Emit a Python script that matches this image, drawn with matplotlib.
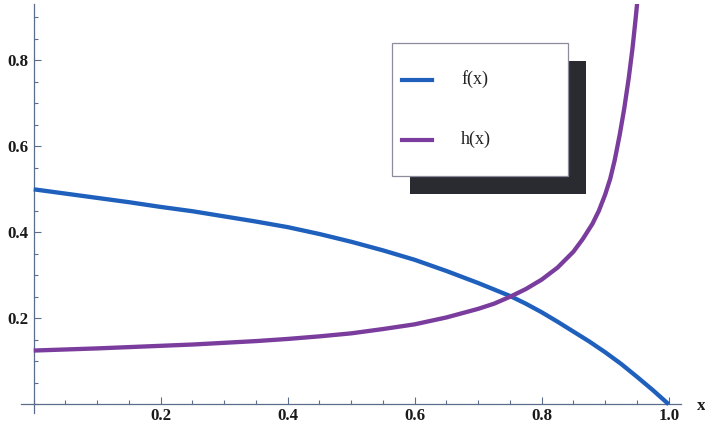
import numpy as np
import matplotlib
matplotlib.use("Agg")
import matplotlib.pyplot as plt
from matplotlib.ticker import MultipleLocator
from matplotlib.patches import Rectangle
from matplotlib.lines import Line2D

# values
x_f = [0.0, 0.05, 0.1, 0.15, 0.2, 0.25, 0.3, 0.35, 0.4, 0.45, 0.5,
       0.55, 0.6, 0.65, 0.7, 0.75, 0.775, 0.8, 0.825, 0.85, 0.875,
       0.9, 0.925, 0.95, 0.975, 1.0]
f_vals = [0.500, 0.490, 0.480, 0.470, 0.459, 0.449, 0.437, 0.425, 0.412, 0.396, 0.378,
          0.358, 0.336, 0.310, 0.282, 0.252, 0.234, 0.214, 0.192, 0.169, 0.146,
          0.121, 0.094, 0.064, 0.033, 0.0]

x_h = [0.0, 0.05, 0.1, 0.15, 0.2, 0.25, 0.3, 0.35, 0.4, 0.45, 0.5, 0.55, 0.6,
       0.65, 0.7, 0.725, 0.75, 0.775, 0.8, 0.825, 0.85, 0.865, 0.88, 0.89, 0.9,
       0.908, 0.915, 0.923, 0.93, 0.937, 0.943, 0.948, 0.952, 0.956]
h_vals = [0.125, 0.1275, 0.130, 0.133, 0.136, 0.139, 0.143, 0.147, 0.152, 0.158, 0.165, 0.175, 0.186,
          0.202, 0.222, 0.234, 0.250, 0.268, 0.290, 0.318, 0.355, 0.385, 0.420, 0.450, 0.488,
          0.525, 0.568, 0.628, 0.688, 0.758, 0.828, 0.898, 0.958, 1.02]

x_ticks = [0.2, 0.4, 0.6, 0.8, 1.0]
x_labels = ["0.2", "0.4", "0.6", "0.8", "1.0"]
y_ticks = [0.2, 0.4, 0.6, 0.8]
y_labels = ["0.2", "0.4", "0.6", "0.8"]
names = ["f(x)", "h(x)"]

blue = "#1f60bd"
purple = "#7a3d9e"
axcol = "#5a6e8c"

fig = plt.figure(figsize=(7.05, 4.3), dpi=100)
ax = fig.add_axes([21 / 705, (430 - 412.9) / 430, 660.4 / 705, 408.5 / 430])

ax.plot(x_f, f_vals, color=blue, lw=3.1, solid_capstyle="butt", solid_joinstyle="round", zorder=3)
ax.plot(x_h, h_vals, color=purple, lw=3.1, solid_capstyle="butt", solid_joinstyle="round", zorder=3)

ax.set_xlim(-0.02, 1.02)
ax.set_ylim(-0.02, 0.93)

for s in ["top", "right"]:
    ax.spines[s].set_visible(False)
for s in ["left", "bottom"]:
    ax.spines[s].set_position(("data", 0))
    ax.spines[s].set_color(axcol)
    ax.spines[s].set_linewidth(0.9)

ax.set_xticks(x_ticks)
ax.set_xticklabels(x_labels)
ax.set_yticks(y_ticks)
ax.set_yticklabels(y_labels)
ax.xaxis.set_minor_locator(MultipleLocator(0.05))
ax.yaxis.set_minor_locator(MultipleLocator(0.05))

ax.tick_params(which="both", direction="in", color=axcol, width=0.8)
ax.tick_params(which="major", length=5)
ax.tick_params(which="minor", length=3)
ax.tick_params(axis="x", which="major", pad=3)
ax.tick_params(axis="y", which="major", pad=4)
for lab in ax.get_xticklabels() + ax.get_yticklabels():
    lab.set_fontfamily("Liberation Serif")
    lab.set_fontweight("bold")
    lab.set_fontsize(12.2)
    lab.set_color("#1a1a1a")

ax.text(1.0446, -0.004, "x", ha="left", va="center", fontsize=12.5,
        fontweight="bold", family="Liberation Serif", color="#1a1a1a")

# legend box with hard shadow (pixel coords -> figure fraction)
def fx(px):
    return px / 705

def fy(py):
    return (430 - py) / 430

box_w, box_h = 176, 133
fig.patches.append(Rectangle((fx(410), fy(61 + box_h)), box_w / 705, box_h / 430,
                             transform=fig.transFigure, facecolor="#2a2a31",
                             edgecolor="none", zorder=5))
fig.patches.append(Rectangle((fx(392), fy(43 + box_h)), box_w / 705, box_h / 430,
                             transform=fig.transFigure, facecolor="white",
                             edgecolor="#8c8c9c", lw=0.9, zorder=6))
for name, col, py in zip(names, [blue, purple], [79.5, 139.5]):
    fig.lines.append(Line2D([fx(402), fx(432)], [fy(py), fy(py)], color=col, lw=3,
                            transform=fig.transFigure, zorder=7))
    fig.text(fx(461), fy(py), name, ha="left", va="center", fontsize=13,
             family="Liberation Serif", color="#222222", zorder=8)

fig.savefig("out.png", dpi=100)
